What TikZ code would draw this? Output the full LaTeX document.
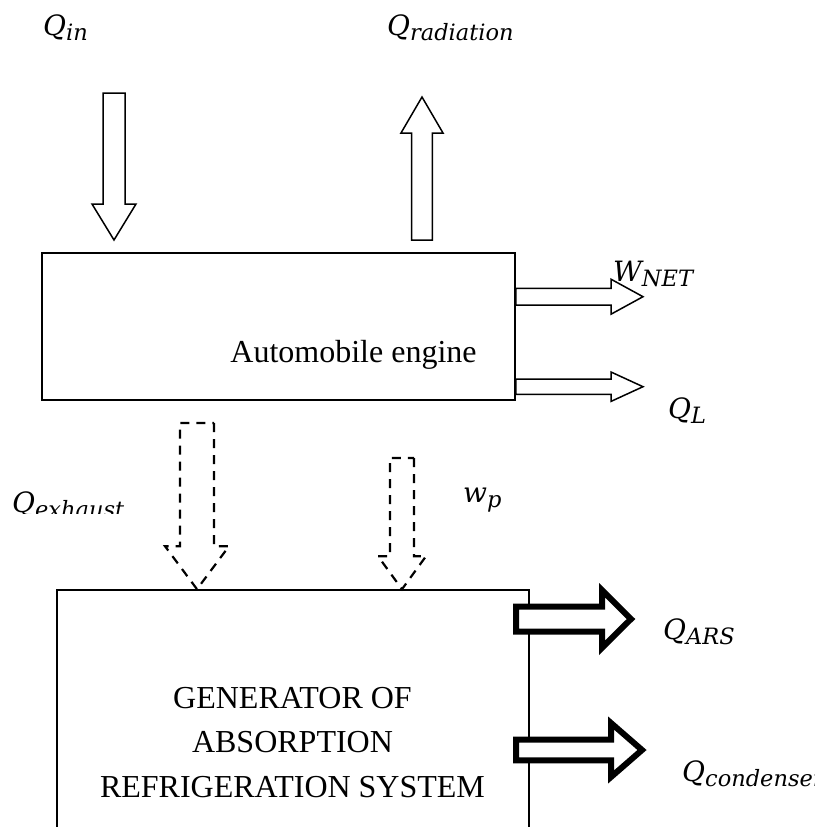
\documentclass[tikz,border=0pt]{standalone}
\usepackage{fontspec}
\setmainfont{Liberation Serif}
\newfontfamily\lblfont{DejaVu Serif}
\usetikzlibrary{calc}

% Block arrow from tail coordinate #2 to tip coordinate #3:
% #4 half shaft width, #5 half head width, #6 head length.
\newcommand\fatarrow[6][]{%
  \coordinate (fa-base) at ($(#3)!#6!(#2)$);
  \draw[#1] ($(#2)!#4!90:(#3)$) -- ($(fa-base)!#4!90:(#3)$)
    -- ($(fa-base)!#5!90:(#3)$) -- (#3) -- ($(fa-base)!#5!-90:(#3)$)
    -- ($(fa-base)!#4!-90:(#3)$) -- ($(#2)!#4!-90:(#3)$) -- cycle;}

% quantity symbol with italic subscript
\newcommand\qty[2]{{\lblfont\itshape\fontsize{28}{33}\selectfont #1\raisebox{-5pt}{\fontsize{22.5}{27}\selectfont #2}}}

\begin{document}
\begin{tikzpicture}[x=1pt,y=-1pt,
  boxline/.style={draw, line width=1.6pt, inner sep=0pt},
  plainarrow/.style={draw, fill=white, line width=1.5pt, line join=miter},
  dasharrow/.style={draw, fill=white, line width=2.2pt, dash pattern=on 9pt off 7pt},
  heavyarrow/.style={draw, fill=white, line width=6pt, line join=miter},
  lbl/.style={inner sep=0pt},
  boxtext/.style={font=\fontsize{32}{44.5}\selectfont, inner sep=0pt, align=center}]
\useasboundingbox (0,0) rectangle (814,827);

% blocks
\node[boxline, minimum width=473pt, minimum height=147pt] (eng) at (278.5,326.5) {};
\node[boxtext] (engtxt) at (353.5,355) {Automobile engine};
\node[boxline, minimum width=472pt, minimum height=300pt] (gen) at (293,740) {};
\node[boxtext] (gentxt) at (292.5,742.5) {GENERATOR OF\\ABSORPTION\\REFRIGERATION SYSTEM};

% arrow end points
\coordinate (qin-tail) at (114,93);
\coordinate (qin-tip) at (114,240);
\coordinate (qrad-tail) at (422,240);
\coordinate (qrad-tip) at (422,97);
\coordinate (wnet-tail) at (eng.east |- 0,296.7);
\coordinate (wnet-tip) at (643,296.7);
\coordinate (ql-tail) at (eng.east |- 0,386.7);
\coordinate (ql-tip) at (643,386.7);
\coordinate (qex-tail) at (197,423);
\coordinate (qex-tip) at (gen.north -| 197,0);
\coordinate (wp-tail) at (402,458);
\coordinate (wp-tip) at (gen.north -| 402,0);
\coordinate (qars-tail) at (516,619);
\coordinate (qars-tip) at (631,619);
\coordinate (qcon-tail) at (516,750);
\coordinate (qcon-tip) at (642,750);

% engine heat and work flows
\fatarrow[plainarrow]{qin-tail}{qin-tip}{11pt}{22pt}{36pt}
\fatarrow[plainarrow]{qrad-tail}{qrad-tip}{10.3pt}{21pt}{36pt}
\fatarrow[plainarrow]{wnet-tail}{wnet-tip}{8.3pt}{17.5pt}{32pt}
\fatarrow[plainarrow]{ql-tail}{ql-tip}{7.7pt}{14.7pt}{32pt}

% flows into the generator
\fatarrow[dasharrow]{qex-tail}{qex-tip}{17pt}{32pt}{43pt}
\fatarrow[dasharrow]{wp-tail}{wp-tip}{12pt}{24pt}{33pt}

% flows out of the generator
\fatarrow[heavyarrow]{qars-tail}{qars-tip}{12.5pt}{28.8pt}{29pt}
\fatarrow[heavyarrow]{qcon-tail}{qcon-tip}{10.3pt}{27pt}{31pt}

% labels
\node[lbl, anchor=base west] (qin) at (43,35) {\qty{Q}{in}};
\node[lbl, anchor=base west] (qrad) at (387,35) {\qty{Q}{radiation}};
\node[lbl, anchor=base west] (wnet) at (613,281) {\qty{W}{NET}};
\node[lbl, anchor=base west] (ql) at (668,418) {\qty{Q}{L}};
\begin{scope}
  \clip (0,470) rectangle (200,513);
  \node[lbl, anchor=base west] (qex) at (12,512.5) {\qty{Q}{exhaust}};
\end{scope}
\node[lbl, anchor=base west] (wp) at (463,502) {\qty{w}{p}};
\node[lbl, anchor=base west] (qars) at (663,639) {\qty{Q}{ARS}};
\node[lbl, anchor=base west] (qcon) at (682,781) {\qty{Q}{condenser}};
\end{tikzpicture}
\end{document}
